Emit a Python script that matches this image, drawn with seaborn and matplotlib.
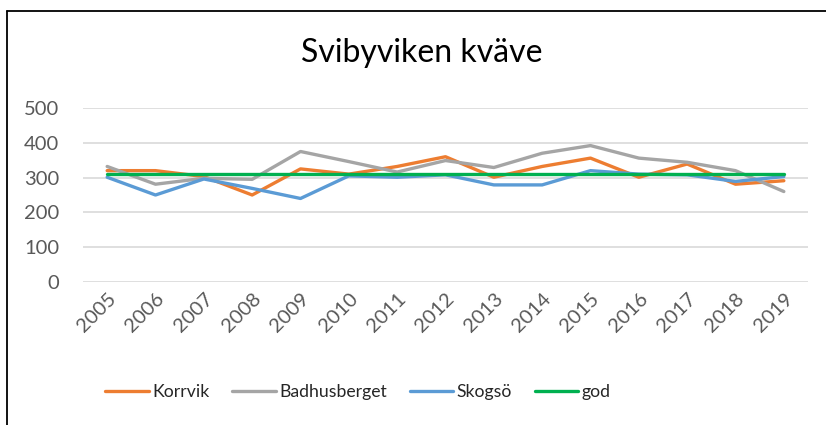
import pandas as pd
import matplotlib
matplotlib.use("Agg")
import matplotlib.pyplot as plt
from matplotlib.lines import Line2D
import seaborn as sns

# data
years = [str(y) for y in range(2005, 2020)]
korrvik = [320, 320, 303, 250, 325, 310, 332, 360, 301, 332, 356, 301, 339, 281, 291]
badhusberget = [332, 281, 298, 295, 375, 346, 316, 349, 329, 370, 392, 356, 344, 320, 260]
skogso = [301, 250, 296, 269, 240, 305, 301, 308, 279, 279, 320, 310, 308, 289, 303]
god = [311] * 15

series_names = ["Korrvik", "Badhusberget", "Skogsö", "god"]
colors = ["#ED7D31", "#A5A5A5", "#5B9BD5", "#00B050"]

df = pd.concat([
    pd.DataFrame({"year": years, "value": vals, "serie": name})
    for name, vals in zip(series_names, [korrvik, badhusberget, skogso, god])
])

sns.set_style("white")
plt.rcParams["font.family"] = ["Lato", "DejaVu Sans"]

fig = plt.figure(figsize=(8.26, 4.25), dpi=100)
ax = fig.add_axes([83 / 826, 1 - 282 / 425, 725 / 826, 174 / 425])

sns.lineplot(data=df, x="year", y="value", hue="serie", hue_order=series_names,
             palette=colors, linewidth=2.4, sort=False, ax=ax)

ax.set_xlim(-0.5, len(years) - 0.5)
ax.set_ylim(0, 500)
ax.set_yticks(range(0, 501, 100))
ax.grid(axis="y", color="#D9D9D9", linewidth=1.2)
ax.set_axisbelow(True)
for s in ax.spines.values():
    s.set_visible(False)
ax.tick_params(axis="both", length=0, labelsize=14.5, labelcolor="#595959")
ax.tick_params(axis="y", pad=17)
ax.tick_params(axis="x", pad=6)
plt.setp(ax.get_xticklabels(), rotation=45, ha="right", rotation_mode="anchor")
ax.set_xlabel("")
ax.set_ylabel("")

ax.legend_.remove()
handles = [Line2D([], [], color=c, linewidth=2.4) for c in colors]
fig.legend(handles, series_names, loc="center", bbox_to_anchor=(358 / 826, 1 - 392 / 425),
           ncol=4, frameon=False, fontsize=12.7, handlelength=2.45, handletextpad=0.2,
           columnspacing=1.3)

fig.text(422 / 826, 1 - 53 / 425, "Svibyviken kväve", ha="center", va="center",
         fontsize=23, color="#000000")

# chart frame (left and top edges visible in the reference)
fig.add_artist(Line2D([6.5 / 826, 6.5 / 826], [0, 1 - 10.5 / 425], color="black",
                      linewidth=1.3, transform=fig.transFigure))
fig.add_artist(Line2D([6.5 / 826, 1], [1 - 10.5 / 425, 1 - 10.5 / 425], color="black",
                      linewidth=1.3, transform=fig.transFigure))

fig.savefig("out.png", dpi=100)
